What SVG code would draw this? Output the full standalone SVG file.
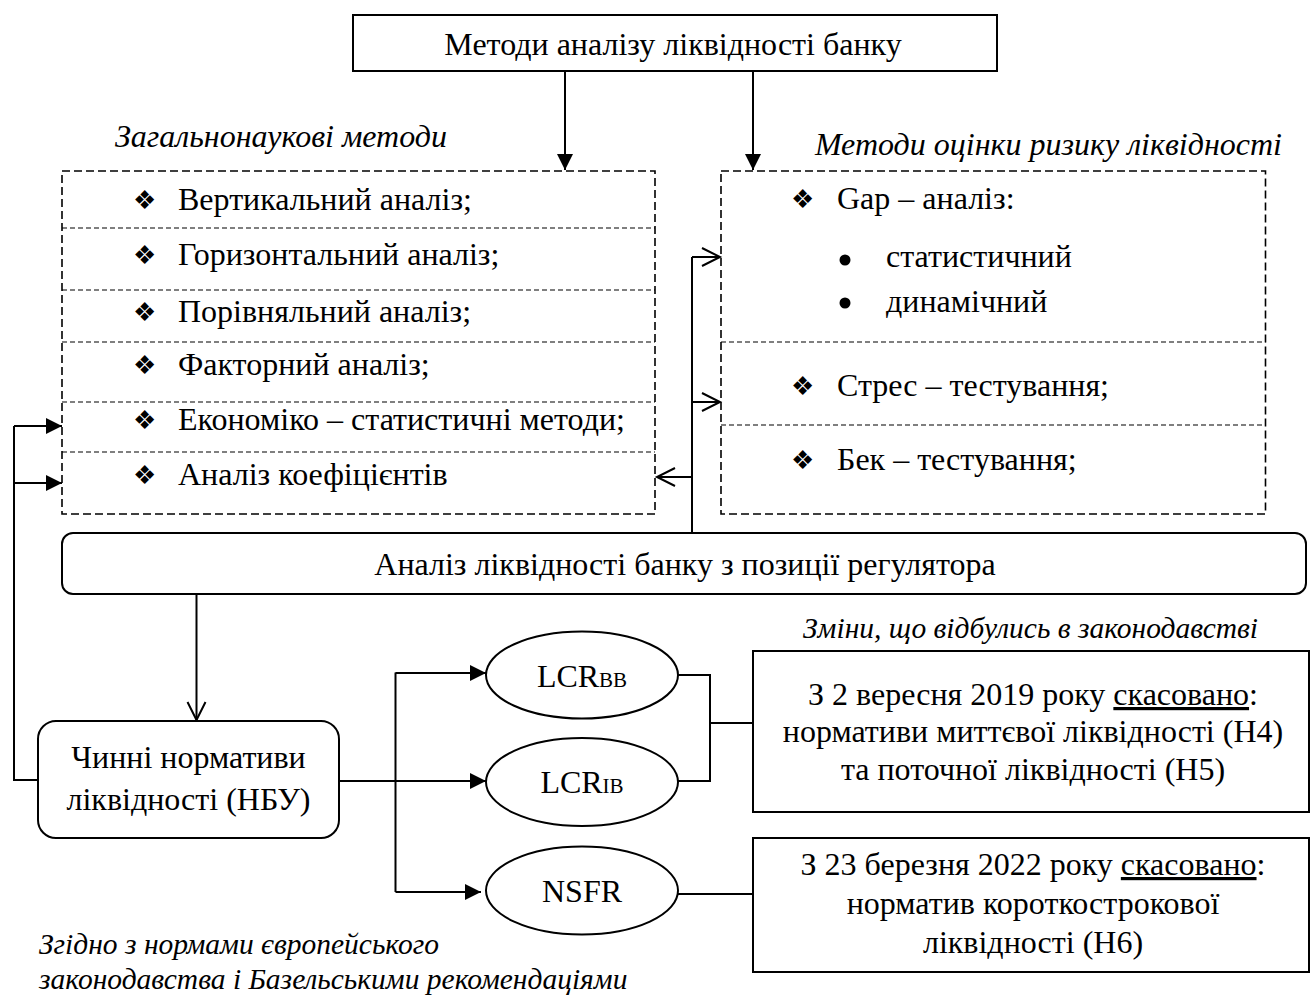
<svg xmlns="http://www.w3.org/2000/svg" width="1311" height="996" viewBox="0 0 1311 996">
<defs>
<style>
.t{font-family:"Liberation Serif","Times New Roman",serif;font-size:32px;fill:#000}
.c{text-anchor:middle}
.i{font-family:"Liberation Serif","Times New Roman",serif;font-size:29.5px;font-style:italic;fill:#000}
.ib{font-size:32px}
.sub{font-size:21px}
.dia{font-family:"DejaVu Sans",sans-serif;font-size:26px;fill:#000}
.box{fill:#fff;stroke:#000;stroke-width:2}
.outer{fill:none;stroke:#000;stroke-width:1.6;stroke-dasharray:8 4}
.sep{fill:none;stroke:#000;stroke-width:1.2;stroke-dasharray:5 3}
.ln{fill:none;stroke:#000;stroke-width:2}
.fa{marker-end:url(#fill)}
.oa{marker-end:url(#open)}
</style>
<marker id="fill" markerUnits="userSpaceOnUse" markerWidth="18" markerHeight="18" refX="16" refY="8" orient="auto">
<path d="M0,0 L16,8 L0,16 z" fill="#000"/>
</marker>
<marker id="open" markerUnits="userSpaceOnUse" markerWidth="22" markerHeight="22" refX="19" refY="10" orient="auto">
<path d="M1,1 L19,10 L1,19" fill="none" stroke="#000" stroke-width="2"/>
</marker>
</defs>
<rect width="1311" height="996" fill="#fff"/>

<g id="connectors">
<line class="ln fa" x1="565" y1="71" x2="565" y2="170"/>
<line class="ln fa" x1="753" y1="71" x2="753" y2="170"/>
<line class="ln" x1="692" y1="257" x2="692" y2="533"/>
<line class="ln oa" x1="692" y1="257" x2="720" y2="257"/>
<line class="ln oa" x1="692" y1="402" x2="720" y2="402"/>
<line class="ln oa" x1="692" y1="477" x2="657" y2="477"/>
<line class="ln oa" x1="196.5" y1="594" x2="196.5" y2="720"/>
<polyline class="ln" points="38,780 14,780 14,426"/>
<line class="ln fa" x1="14" y1="426" x2="62" y2="426"/>
<line class="ln fa" x1="14" y1="483" x2="62" y2="483"/>
<line class="ln fa" x1="339" y1="781" x2="486" y2="781"/>
<line class="ln" x1="395.5" y1="672.5" x2="395.5" y2="892"/>
<line class="ln fa" x1="395.5" y1="673" x2="486" y2="673"/>
<line class="ln fa" x1="395.5" y1="892" x2="481" y2="892"/>
<polyline class="ln" points="678,675 710,675 710,781 678,781"/>
<line class="ln" x1="710" y1="723" x2="753" y2="723"/>
<line class="ln" x1="678" y1="894" x2="753" y2="894"/>
</g>

<g id="top">
<rect class="box" x="353" y="15" width="644" height="56"/>
<text class="t c" x="673" y="55">Методи аналізу ліквідності банку</text>
</g>

<g id="label-general">
<text class="i ib" x="115" y="147">Загальнонаукові методи</text>
</g>

<g id="label-risk">
<text class="i ib" x="1282" y="155" text-anchor="end">Методи оцінки ризику ліквідності</text>
</g>

<g id="general-methods">
<rect class="outer" x="62" y="171" width="593" height="343"/>
<line class="sep" x1="62" y1="228" x2="655" y2="228"/>
<line class="sep" x1="62" y1="290" x2="655" y2="290"/>
<line class="sep" x1="62" y1="342" x2="655" y2="342"/>
<line class="sep" x1="62" y1="402" x2="655" y2="402"/>
<line class="sep" x1="62" y1="452" x2="655" y2="452"/>
<text class="dia" x="133" y="209">❖</text>
<text class="t" x="178" y="210">Вертикальний аналіз;</text>
<text class="dia" x="133" y="264">❖</text>
<text class="t" x="178" y="265">Горизонтальний аналіз;</text>
<text class="dia" x="133" y="321">❖</text>
<text class="t" x="178" y="322">Порівняльний аналіз;</text>
<text class="dia" x="133" y="374">❖</text>
<text class="t" x="178" y="375">Факторний аналіз;</text>
<text class="dia" x="133" y="429">❖</text>
<text class="t" x="178" y="430">Економіко – статистичні методи;</text>
<text class="dia" x="133" y="484">❖</text>
<text class="t" x="178" y="485">Аналіз коефіцієнтів</text>
</g>

<g id="risk-methods">
<rect class="outer" x="721" y="171" width="544.5" height="343"/>
<line class="sep" x1="721" y1="342" x2="1265.5" y2="342"/>
<line class="sep" x1="721" y1="425" x2="1265.5" y2="425"/>
<text class="dia" x="791" y="208">❖</text>
<text class="t" x="837" y="209">Gap – аналіз:</text>
<circle cx="845" cy="260" r="5.5" fill="#000"/>
<text class="t" x="886" y="267">статистичний</text>
<circle cx="845" cy="303" r="5.5" fill="#000"/>
<text class="t" x="886" y="312">динамічний</text>
<text class="dia" x="791" y="395">❖</text>
<text class="t" x="837" y="396">Стрес – тестування;</text>
<text class="dia" x="791" y="469">❖</text>
<text class="t" x="837" y="470">Бек – тестування;</text>
</g>

<g id="regulator">
<rect class="box" x="62" y="533" width="1244" height="61" rx="11"/>
<text class="t c" x="685" y="575">Аналіз ліквідності банку з позиції регулятора</text>
</g>

<g id="nbu">
<rect class="box" x="38" y="721" width="301" height="117" rx="18"/>
<text class="t c" x="188.5" y="768">Чинні нормативи</text>
<text class="t c" x="188.5" y="810">ліквідності (НБУ)</text>
</g>

<g id="lcrbb">
<ellipse class="box" cx="582" cy="675" rx="96" ry="43.5"/>
<text class="t c" x="582" y="687">LCR<tspan class="sub">BB</tspan></text>
</g>

<g id="lcrib">
<ellipse class="box" cx="582" cy="782" rx="96" ry="44"/>
<text class="t c" x="582" y="793">LCR<tspan class="sub">IB</tspan></text>
</g>

<g id="nsfr">
<ellipse class="box" cx="582" cy="890.5" rx="96" ry="44"/>
<text class="t c" x="582" y="902">NSFR</text>
</g>

<g id="label-changes">
<text class="i" x="803" y="638">Зміни, що відбулись в законодавстві</text>
</g>

<g id="change-2019">
<rect class="box" x="753" y="651" width="556" height="161"/>
<text class="t c" x="1033" y="705">З 2 вересня 2019 року <tspan text-decoration="underline">скасовано</tspan>:</text>
<text class="t c" x="1033" y="742">нормативи миттєвої ліквідності (Н4)</text>
<text class="t c" x="1033" y="780">та поточної ліквідності (Н5)</text>
</g>

<g id="change-2022">
<rect class="box" x="753" y="838" width="556" height="134"/>
<text class="t c" x="1033" y="875">З 23 березня 2022 року <tspan text-decoration="underline">скасовано</tspan>:</text>
<text class="t c" x="1033" y="914">норматив короткострокової</text>
<text class="t c" x="1033" y="953">ліквідності (Н6)</text>
</g>

<g id="label-basel">
<text class="i" x="39" y="954">Згідно з нормами європейського</text>
<text class="i" x="39" y="989">законодавства і Базельськими рекомендаціями</text>
</g>
</svg>
